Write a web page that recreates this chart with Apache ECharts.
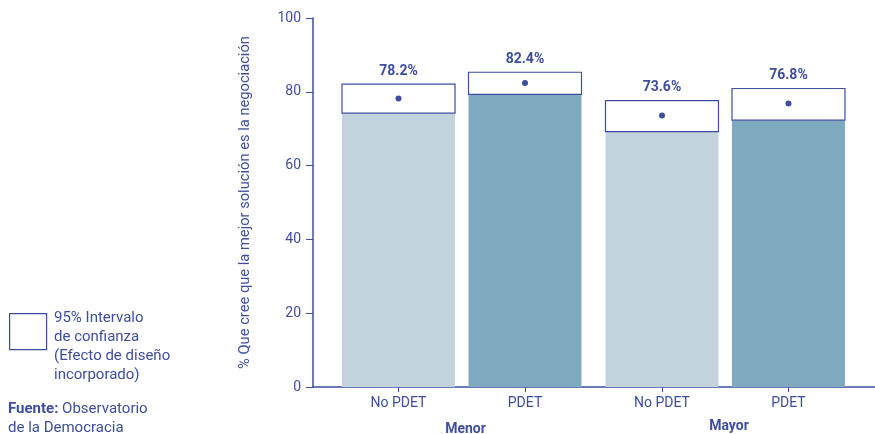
<!DOCTYPE html>
<html>
<head>
<meta charset="utf-8">
<script src="https://cdn.jsdelivr.net/npm/echarts@6/dist/echarts.min.js"></script>
<style>
  html, body { margin: 0; padding: 0; background: #fff; }
  #chart { width: 875px; height: 434px; }
</style>
</head>
<body>
<div id="chart"></div>
<script>
// data
var categories = ['No PDET', 'PDET', 'No PDET', 'PDET'];
var groupOf = [0, 0, 1, 1];
var groupNames = ['Menor', 'Mayor'];
var estimate = [78.2, 82.4, 73.6, 76.8];
var lowerCI = [74.2, 79.3, 69.2, 72.3];
var upperCI = [82.1, 85.3, 77.6, 80.9];

var navy = '#3d4ea0';
var barColors = ['#c2d3dd', '#7ea9bf'];
var groupGap = 0.083;

// x slot of every bar: its index plus a little gap between groups
var slots = categories.map(function (c, i) { return i + groupOf[i] * groupGap; });
var groupCenters = groupNames.map(function (g, gi) {
  var s = slots.filter(function (v, i) { return groupOf[i] === gi; });
  return (s[0] + s[s.length - 1]) / 2 + 0.03;
});

function nearest(list, v) {
  for (var i = 0; i < list.length; i++) {
    if (Math.abs(list[i] - v) < 1e-6) return i;
  }
  return -1;
}

var seriesData = categories.map(function (c, i) {
  return [slots[i], lowerCI[i], upperCI[i], estimate[i], i];
});

var chart = echarts.init(document.getElementById('chart'));
var option = {
  backgroundColor: '#fff',
  animation: false,
  textStyle: { fontFamily: 'Roboto, sans-serif' },
  grid: { left: 313, right: 0, top: 18, bottom: 47, outerBoundsMode: 'none', containLabel: false },
  xAxis: [
    {
      type: 'value',
      min: -0.676,
      max: 3.767,
      splitLine: { show: false },
      axisLine: { onZero: false, lineStyle: { color: navy, width: 1.5 } },
      axisTick: { customValues: slots, length: 5, lineStyle: { color: navy } },
      axisLabel: {
        customValues: slots,
        color: navy,
        fontSize: 14,
        margin: 9,
        formatter: function (v) { var i = nearest(slots, v); return i >= 0 ? categories[i] : ''; }
      }
    },
    {
      type: 'value',
      min: -0.676,
      max: 3.767,
      position: 'bottom',
      offset: 24,
      splitLine: { show: false },
      axisLine: { show: false, onZero: false },
      axisTick: { show: false },
      axisLabel: {
        customValues: groupCenters,
        formatter: function (v) {
          var i = nearest(groupCenters, v);
          return i === 0 ? '{g0|' + groupNames[0] + '}' : i === 1 ? '{g1|' + groupNames[1] + '}' : '';
        },
        rich: {
          g0: { color: navy, fontSize: 14, fontWeight: 'bold', padding: [3, 0, 0, 0] },
          g1: { color: navy, fontSize: 14, fontWeight: 'bold' }
        }
      }
    }
  ],
  yAxis: {
    type: 'value',
    min: 0,
    max: 100,
    interval: 20,
    name: '% Que cree que la mejor solución es la negociación',
    nameLocation: 'middle',
    nameGap: 60,
    nameTextStyle: { color: navy, fontSize: 14.7 },
    splitLine: { show: false },
    axisLine: { show: true, onZero: false, lineStyle: { color: navy, width: 1.5 } },
    axisTick: { show: true, length: 7, lineStyle: { color: navy } },
    axisLabel: { color: navy, fontSize: 14, margin: 12 }
  },
  series: [
    {
      type: 'custom',
      xAxisIndex: 0,
      data: seriesData,
      renderItem: function (params, api) {
        var x = api.value(0);
        var idx = api.value(4);
        var base = api.coord([x, 0]);
        var lo = api.coord([x, api.value(1)]);
        var hi = api.coord([x, api.value(2)]);
        var est = api.coord([x, api.value(3)]);
        var w = 113;
        return {
          type: 'group',
          children: [
            {
              type: 'rect',
              shape: { x: base[0] - w / 2, y: lo[1], width: w, height: base[1] - lo[1] },
              style: { fill: barColors[idx % 2] }
            },
            {
              type: 'rect',
              shape: { x: base[0] - w / 2, y: hi[1], width: w, height: lo[1] - hi[1] },
              style: { fill: '#fff', stroke: navy, lineWidth: 1.2 }
            },
            {
              type: 'circle',
              shape: { cx: est[0], cy: est[1], r: 3 },
              style: { fill: navy }
            },
            {
              type: 'text',
              x: base[0],
              y: hi[1] - 6,
              style: {
                text: estimate[idx].toFixed(1) + '%',
                fill: navy,
                font: 'bold 14px Roboto, sans-serif',
                align: 'center',
                verticalAlign: 'bottom'
              }
            }
          ]
        };
      }
    }
  ],
  graphic: [
    {
      type: 'rect',
      left: 9, top: 313,
      shape: { width: 37, height: 36 },
      style: { fill: '#fff', stroke: navy, lineWidth: 1.2 }
    },
    {
      type: 'text',
      left: 54, top: 309,
      style: {
        text: '95% Intervalo\nde confianza\n(Efecto de diseño\nincorporado)',
        fill: navy,
        font: '15px Roboto, sans-serif',
        lineHeight: 19
      }
    },
    {
      type: 'text',
      left: 8, top: 400,
      style: {
        text: '{b|Fuente:} Observatorio\nde la Democracia',
        fill: navy,
        font: '15px Roboto, sans-serif',
        lineHeight: 19,
        rich: {
          b: { fontWeight: 'bold', fill: navy, fontSize: 15, fontFamily: 'Roboto, sans-serif' }
        }
      }
    }
  ]
};
chart.setOption(option);
</script>
</body>
</html>
